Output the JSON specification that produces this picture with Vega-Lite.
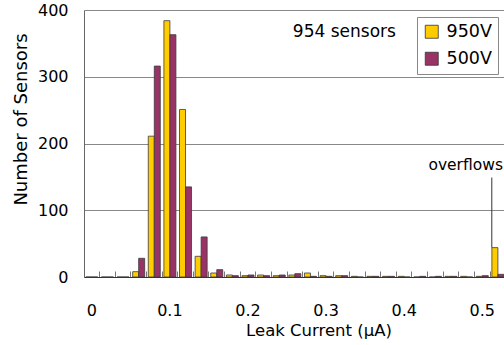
{
  "$schema": "https://vega.github.io/schema/vega-lite/v6.json",
  "width": 420,
  "height": 267,
  "autosize": {"type": "none"},
  "padding": {"left": 84, "top": 10, "right": 0, "bottom": 68},
  "background": "white",
  "config": {"view": {"stroke": null}, "font": "DejaVu Sans"},
  "layer": [
    {
      "data": {
        "values": [
          {"current": 0, "voltage": "950V", "count": 0}, {"current": 0, "voltage": "500V", "count": 0},
          {"current": 0.02, "voltage": "950V", "count": 0}, {"current": 0.02, "voltage": "500V", "count": 0},
          {"current": 0.04, "voltage": "950V", "count": 0}, {"current": 0.04, "voltage": "500V", "count": 0},
          {"current": 0.06, "voltage": "950V", "count": 8}, {"current": 0.06, "voltage": "500V", "count": 28},
          {"current": 0.08, "voltage": "950V", "count": 211}, {"current": 0.08, "voltage": "500V", "count": 316},
          {"current": 0.1, "voltage": "950V", "count": 384}, {"current": 0.1, "voltage": "500V", "count": 363},
          {"current": 0.12, "voltage": "950V", "count": 251}, {"current": 0.12, "voltage": "500V", "count": 135},
          {"current": 0.14, "voltage": "950V", "count": 31}, {"current": 0.14, "voltage": "500V", "count": 60},
          {"current": 0.16, "voltage": "950V", "count": 6}, {"current": 0.16, "voltage": "500V", "count": 11},
          {"current": 0.18, "voltage": "950V", "count": 3}, {"current": 0.18, "voltage": "500V", "count": 2},
          {"current": 0.2, "voltage": "950V", "count": 2}, {"current": 0.2, "voltage": "500V", "count": 3},
          {"current": 0.22, "voltage": "950V", "count": 3}, {"current": 0.22, "voltage": "500V", "count": 2},
          {"current": 0.24, "voltage": "950V", "count": 2}, {"current": 0.24, "voltage": "500V", "count": 3},
          {"current": 0.26, "voltage": "950V", "count": 3}, {"current": 0.26, "voltage": "500V", "count": 5},
          {"current": 0.28, "voltage": "950V", "count": 6}, {"current": 0.28, "voltage": "500V", "count": 1},
          {"current": 0.3, "voltage": "950V", "count": 2}, {"current": 0.3, "voltage": "500V", "count": 1},
          {"current": 0.32, "voltage": "950V", "count": 2}, {"current": 0.32, "voltage": "500V", "count": 2},
          {"current": 0.34, "voltage": "950V", "count": 1}, {"current": 0.34, "voltage": "500V", "count": 0},
          {"current": 0.36, "voltage": "950V", "count": 1}, {"current": 0.36, "voltage": "500V", "count": 1},
          {"current": 0.38, "voltage": "950V", "count": 1}, {"current": 0.38, "voltage": "500V", "count": 1},
          {"current": 0.4, "voltage": "950V", "count": 1}, {"current": 0.4, "voltage": "500V", "count": 0},
          {"current": 0.42, "voltage": "950V", "count": 0}, {"current": 0.42, "voltage": "500V", "count": 1},
          {"current": 0.44, "voltage": "950V", "count": 0}, {"current": 0.44, "voltage": "500V", "count": 1},
          {"current": 0.46, "voltage": "950V", "count": 1}, {"current": 0.46, "voltage": "500V", "count": 1},
          {"current": 0.48, "voltage": "950V", "count": 1}, {"current": 0.48, "voltage": "500V", "count": 0},
          {"current": 0.5, "voltage": "950V", "count": 1}, {"current": 0.5, "voltage": "500V", "count": 2},
          {"current": 0.52, "voltage": "950V", "count": 44}, {"current": 0.52, "voltage": "500V", "count": 4}
        ]
      },
      "mark": {"type": "bar", "stroke": "#3a3a3a", "strokeWidth": 0.8},
      "encoding": {
        "x": {
          "field": "current",
          "type": "ordinal",
          "scale": {"range": [0, 421.7], "paddingInner": 0, "paddingOuter": 0},
          "axis": {
            "title": "Leak Current (μA)",
            "bandPosition": 0,
            "tickSize": -6,
            "tickColor": "#777777",
            "tickWidth": 1,
            "domainColor": "#333333",
            "labelAngle": 0,
            "labelFontSize": 16,
            "labelColor": "#000000",
            "labelPadding": 31,
            "labelExpr": "indexof(['0','0.1','0.2','0.3','0.4','0.5'], datum.label) >= 0 ? datum.label : ''",
            "titleFontSize": 16.5,
            "titleFontWeight": "normal",
            "titleColor": "#000000",
            "titleX": 234.5,
            "titleY": 45,
            "titleBaseline": "top",
            "titleAlign": "center"
          }
        },
        "xOffset": {
          "field": "voltage",
          "type": "nominal",
          "sort": ["950V", "500V"],
          "scale": {"paddingInner": 0, "paddingOuter": 0.3}
        },
        "y": {
          "field": "count",
          "type": "quantitative",
          "scale": {"domain": [0, 400], "nice": false},
          "axis": {
            "title": "Number of Sensors",
            "values": [0, 100, 200, 300, 400],
            "grid": true,
            "gridColor": "#888888",
            "gridWidth": 1,
            "ticks": false,
            "domainColor": "#666666",
            "labelFontSize": 16,
            "labelPadding": 16,
            "labelColor": "#000000",
            "titleFontSize": 18,
            "titleFontWeight": "normal",
            "titleColor": "#000000",
            "titleAngle": -90,
            "titleX": -58,
            "titleY": 109,
            "titleBaseline": "alphabetic",
            "titleAlign": "center"
          }
        },
        "color": {
          "field": "voltage",
          "type": "nominal",
          "scale": {"domain": ["950V", "500V"], "range": ["#FFCC00", "#993366"]},
          "legend": {
            "orient": "none",
            "legendX": 333,
            "legendY": 7,
            "title": null,
            "symbolType": "square",
            "symbolSize": 169,
            "symbolStrokeColor": "#333333",
            "symbolStrokeWidth": 0.8,
            "symbolOpacity": 1,
            "labelFontSize": 17.5,
            "labelColor": "#000000",
            "labelOffset": 6,
            "rowPadding": 8,
            "padding": 6,
            "strokeColor": "#888888",
            "fillColor": "#ffffff"
          }
        }
      }
    },
    {
      "data": {"values": [{"current": 0.26, "count": 360, "label": "954 sensors"}]},
      "mark": {"type": "text", "align": "left", "baseline": "alphabetic", "fontSize": 17, "dx": -2, "color": "#000000"},
      "encoding": {
        "x": {"field": "current", "type": "ordinal"},
        "y": {"field": "count", "type": "quantitative"},
        "text": {"field": "label"}
      }
    },
    {
      "data": {"values": [{"current": 0.44, "count": 161, "label": "overflows"}]},
      "mark": {"type": "text", "align": "left", "baseline": "alphabetic", "fontSize": 15.5, "dx": -7, "color": "#000000"},
      "encoding": {
        "x": {"field": "current", "type": "ordinal"},
        "y": {"field": "count", "type": "quantitative"},
        "text": {"field": "label"}
      }
    },
    {
      "data": {"values": [{"current": 0.52, "count": 149, "count_end": 44}]},
      "mark": {"type": "rule", "color": "#333333", "strokeWidth": 1},
      "encoding": {
        "x": {"field": "current", "type": "ordinal", "bandPosition": 0.11},
        "y": {"field": "count", "type": "quantitative"},
        "y2": {"field": "count_end"}
      }
    }
  ]
}
